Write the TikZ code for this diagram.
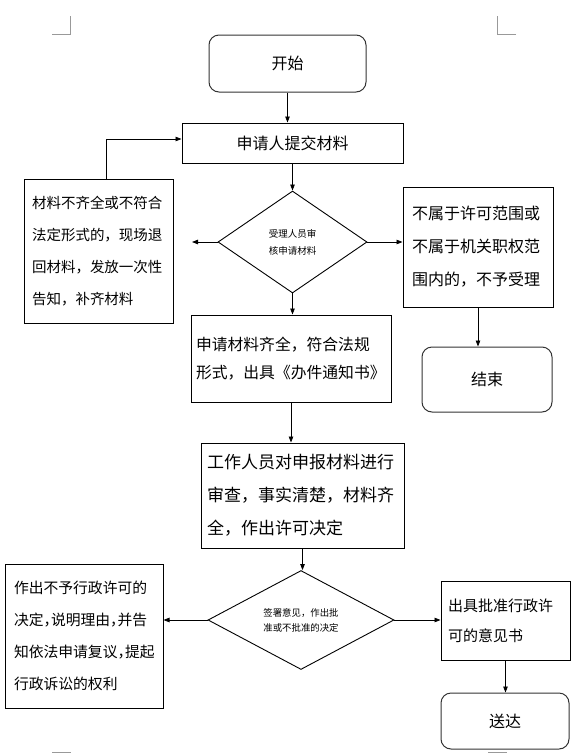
\documentclass[tikz,border=0pt]{standalone}
\usepackage{fontspec}
\setmainfont{Noto Sans CJK SC}
\newfontfamily\halfpunct{Noto Sans CJK SC}[CharacterWidth=AlternateHalf]
\usetikzlibrary{arrows.meta, shapes.geometric}

\begin{document}
\begin{tikzpicture}[x=1pt,y=-1pt,>={Triangle[length=6pt,width=4.5pt]},terminal/.style={rectangle,rounded corners=10pt,draw=black!80,line width=1pt,font=\fontsize{16}{20}\selectfont},stepbox/.style={rectangle,draw,line width=1pt,align=left},decision/.style={diamond,draw,line width=0.9pt,inner sep=0pt,align=center},flow/.style={->,line width=0.8pt},cropmark/.style={draw=black!40,line width=1pt}]
\useasboundingbox (0,0) rectangle (582,753);
\draw[cropmark] (52,34) -- (70,34) -- (70,16);
\draw[cropmark] (516,34) -- (497,34) -- (497,16);
\draw[cropmark] (52,752) -- (71,752);
\draw[cropmark] (488,752) -- (507,752);
\node[terminal,minimum width=157pt,minimum height=57pt] (start) at (287.5,63.5) {开始};
\node[stepbox,align=center,minimum width=221pt,minimum height=40pt,font=\fontsize{16}{20}\selectfont] (submit) at (292.5,143) {申请人提交材料};
\node[decision,minimum width=149pt,minimum height=102pt,font=\fontsize{9.5}{17}\selectfont] (review) at (292.5,242) {受理人员审\\核申请材料};
\node[stepbox,minimum width=149pt,minimum height=144pt,text width=133pt,inner xsep=8pt,font=\fontsize{14.5}{32}\selectfont] (back) at (98.5,251) {材料不齐全或不符合\\法定形式的，现场退\\回材料，发放一次性\\告知，补齐材料};
\node[stepbox,minimum width=150pt,minimum height=120pt,text width=132pt,inner xsep=9pt,font=\fontsize{16}{33}\selectfont] (reject) at (478,247) {不属于许可范围或\\不属于机关职权范\\围内的，不予受理};
\node[terminal,minimum width=130pt,minimum height=65pt] (finish) at (487,379.5) {结束};
\node[stepbox,minimum width=200pt,minimum height=87pt,text width=190pt,inner xsep=5pt,font=\fontsize{15.8}{28}\selectfont] (accept) at (291,358.5) {申请材料齐全，符合法规\\形式，出具《办件通知书》};
\node[stepbox,minimum width=203pt,minimum height=105pt,text width=191pt,inner xsep=6pt,font=\fontsize{17}{33}\selectfont] (check) at (302.5,495.5) {工作人员对申报材料进行\\审查，事实清楚，材料齐\\全，作出许可决定};
\node[decision,minimum width=186pt,minimum height=96pt,font=\fontsize{9.4}{15}\selectfont] (decide) at (301,620) {签署意见，作出批\\准或不批准的决定};
\node[stepbox,minimum width=158pt,minimum height=144pt,text width=140pt,inner xsep=9pt,font=\halfpunct\fontsize{14.8}{32}\selectfont] (deny) at (84,636) {作出不予行政许可的\\决定，说明理由，并告\\知依法申请复议，提起\\行政诉讼的权利};
\node[stepbox,minimum width=129pt,minimum height=79pt,text width=115pt,inner xsep=7pt,font=\fontsize{15}{30}\selectfont] (approve) at (505.5,620.5) {出具批准行政许\\可的意见书};
\node[terminal,minimum width=128pt,minimum height=56pt] (deliver) at (505,721) {送达};
\coordinate (backtip) at (192,242);
\draw[flow] (start) -- (start |- submit.north);
\draw[flow] (submit) -- (review);
\draw[flow] (review.west) -- (backtip);
\draw[flow] ([xshift=8pt]back.north) |- ([yshift=4pt]submit.west);
\draw[flow] (review.east) -- (review.east -| reject.west);
\draw[flow] (reject) -- (reject |- finish.north);
\draw[flow] (review) -- (review |- accept.north);
\draw[flow] (accept) -- (accept |- check.north);
\draw[flow] (check) -- (check |- decide.north);
\draw[flow] (decide.west) -- (decide.west -| deny.east);
\draw[flow] (decide.east) -- (decide.east -| approve.west);
\draw[flow] (approve) -- (approve |- deliver.north);
\end{tikzpicture}
\end{document}
